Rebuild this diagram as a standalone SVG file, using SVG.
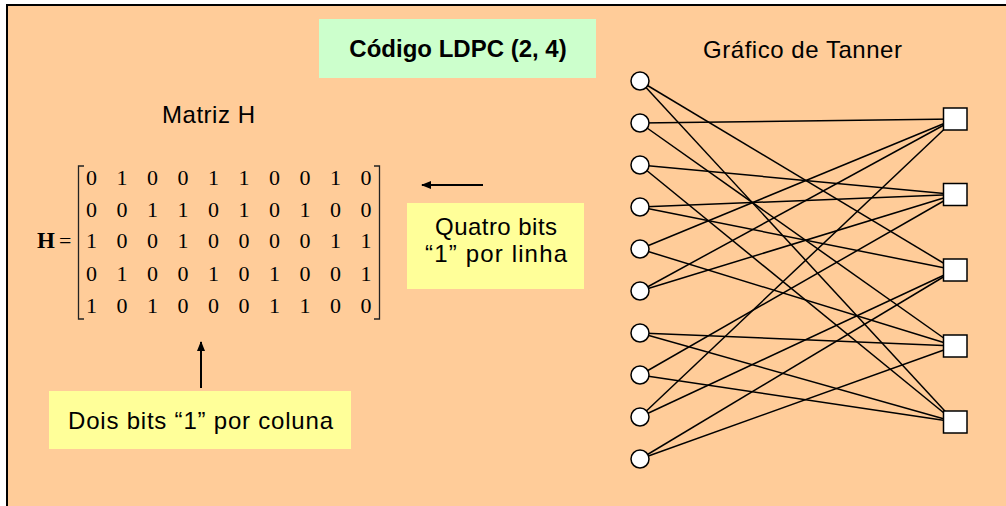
<svg xmlns="http://www.w3.org/2000/svg" width="1006" height="506" viewBox="0 0 1006 506">
<defs>
<style>
.lbl{font-family:"Liberation Sans",Arial,sans-serif;font-size:24px;fill:#000}
.mat{font-family:"Liberation Serif","Times New Roman",serif;font-size:22px;fill:#000;text-anchor:middle}
.edge{stroke:#000;stroke-width:1.5;fill:none}
.var{fill:#fff;stroke:#000;stroke-width:1.5}
.chk{fill:#fff;stroke:#000;stroke-width:1.5}
.br{stroke:#222;stroke-width:1.3;fill:none}
.arr{stroke:#000;stroke-width:2;fill:none}
</style>
<marker id="ah" viewBox="0 0 10 8" refX="9" refY="4" markerWidth="5" markerHeight="4" orient="auto" markerUnits="strokeWidth">
<path d="M0,0 L10,4 L0,8 Z" fill="#000"/>
</marker>
</defs>
<rect x="0" y="0" width="1006" height="506" fill="#fff"/>
<rect x="7" y="5" width="1010" height="520" fill="#FFCC99" stroke="#000" stroke-width="2"/>

<g id="title">
<rect x="319" y="19" width="277" height="59" fill="#CCFFCC"/>
<text class="lbl" x="458" y="57" text-anchor="middle" font-weight="bold">Código LDPC (2, 4)</text>
</g>
<g id="tanner-title">
<text class="lbl" x="703" y="58" textLength="199" lengthAdjust="spacing">Gráfico de Tanner</text>
</g>
<g id="matrix-title">
<text class="lbl" x="162" y="123" textLength="93" lengthAdjust="spacing">Matriz H</text>
</g>

<g id="matrix">
<text x="37" y="248" font-family="'Liberation Serif','Times New Roman',serif" font-size="23" font-weight="bold">H</text>
<text x="59" y="248" font-family="'Liberation Serif','Times New Roman',serif" font-size="22">=</text>
<path class="br" d="M84,166 H78.5 V319 H84"/>
<path class="br" d="M374,166 H379.5 V319 H374"/>
<g class="mat">
<text y="185"><tspan x="91.5">0</tspan><tspan x="122">1</tspan><tspan x="152.5">0</tspan><tspan x="183">0</tspan><tspan x="213.5">1</tspan><tspan x="244">1</tspan><tspan x="274.5">0</tspan><tspan x="305">0</tspan><tspan x="335.5">1</tspan><tspan x="366">0</tspan></text>
<text y="216.5"><tspan x="91.5">0</tspan><tspan x="122">0</tspan><tspan x="152.5">1</tspan><tspan x="183">1</tspan><tspan x="213.5">0</tspan><tspan x="244">1</tspan><tspan x="274.5">0</tspan><tspan x="305">1</tspan><tspan x="335.5">0</tspan><tspan x="366">0</tspan></text>
<text y="248"><tspan x="91.5">1</tspan><tspan x="122">0</tspan><tspan x="152.5">0</tspan><tspan x="183">1</tspan><tspan x="213.5">0</tspan><tspan x="244">0</tspan><tspan x="274.5">0</tspan><tspan x="305">0</tspan><tspan x="335.5">1</tspan><tspan x="366">1</tspan></text>
<text y="280.5"><tspan x="91.5">0</tspan><tspan x="122">1</tspan><tspan x="152.5">0</tspan><tspan x="183">0</tspan><tspan x="213.5">1</tspan><tspan x="244">0</tspan><tspan x="274.5">1</tspan><tspan x="305">0</tspan><tspan x="335.5">0</tspan><tspan x="366">1</tspan></text>
<text y="312.5"><tspan x="91.5">1</tspan><tspan x="122">0</tspan><tspan x="152.5">1</tspan><tspan x="183">0</tspan><tspan x="213.5">0</tspan><tspan x="244">0</tspan><tspan x="274.5">1</tspan><tspan x="305">1</tspan><tspan x="335.5">0</tspan><tspan x="366">0</tspan></text>
</g>
</g>

<g id="note-row">
<rect x="407" y="203" width="177" height="86" fill="#FFFF99"/>
<text class="lbl" x="435" y="235" textLength="122" lengthAdjust="spacing">Quatro bits</text>
<text class="lbl" x="425" y="262" textLength="142" lengthAdjust="spacing">“1” por linha</text>
</g>
<g id="note-col">
<rect x="49" y="391" width="302" height="58" fill="#FFFF99"/>
<text class="lbl" x="68" y="429" textLength="265" lengthAdjust="spacing">Dois bits “1” por coluna</text>
</g>

<g id="connectors">
<line class="arr" x1="483" y1="185" x2="422" y2="185" marker-end="url(#ah)"/>
<line class="arr" x1="201" y1="388" x2="201" y2="342" marker-end="url(#ah)"/>
<line class="edge" x1="640" y1="123" x2="955" y2="119"/>
<line class="edge" x1="640" y1="249" x2="955" y2="119"/>
<line class="edge" x1="640" y1="291" x2="955" y2="119"/>
<line class="edge" x1="640" y1="417" x2="955" y2="119"/>
<line class="edge" x1="640" y1="165" x2="955" y2="194.5"/>
<line class="edge" x1="640" y1="207" x2="955" y2="194.5"/>
<line class="edge" x1="640" y1="291" x2="955" y2="194.5"/>
<line class="edge" x1="640" y1="375" x2="955" y2="194.5"/>
<line class="edge" x1="640" y1="81" x2="955" y2="270"/>
<line class="edge" x1="640" y1="207" x2="955" y2="270"/>
<line class="edge" x1="640" y1="417" x2="955" y2="270"/>
<line class="edge" x1="640" y1="459" x2="955" y2="270"/>
<line class="edge" x1="640" y1="123" x2="955" y2="346"/>
<line class="edge" x1="640" y1="249" x2="955" y2="346"/>
<line class="edge" x1="640" y1="333" x2="955" y2="346"/>
<line class="edge" x1="640" y1="459" x2="955" y2="346"/>
<line class="edge" x1="640" y1="81" x2="955" y2="422"/>
<line class="edge" x1="640" y1="165" x2="955" y2="422"/>
<line class="edge" x1="640" y1="333" x2="955" y2="422"/>
<line class="edge" x1="640" y1="375" x2="955" y2="422"/>
</g>

<g id="v1"><circle class="var" cx="640" cy="81" r="9"/></g>
<g id="v2"><circle class="var" cx="640" cy="123" r="9"/></g>
<g id="v3"><circle class="var" cx="640" cy="165" r="9"/></g>
<g id="v4"><circle class="var" cx="640" cy="207" r="9"/></g>
<g id="v5"><circle class="var" cx="640" cy="249" r="9"/></g>
<g id="v6"><circle class="var" cx="640" cy="291" r="9"/></g>
<g id="v7"><circle class="var" cx="640" cy="333" r="9"/></g>
<g id="v8"><circle class="var" cx="640" cy="375" r="9"/></g>
<g id="v9"><circle class="var" cx="640" cy="417" r="9"/></g>
<g id="v10"><circle class="var" cx="640" cy="459" r="9"/></g>

<g id="c1"><rect class="chk" x="943.5" y="108" width="23.5" height="22"/></g>
<g id="c2"><rect class="chk" x="943.5" y="183.5" width="23.5" height="22"/></g>
<g id="c3"><rect class="chk" x="943.5" y="259" width="23.5" height="22"/></g>
<g id="c4"><rect class="chk" x="943.5" y="335" width="23.5" height="22"/></g>
<g id="c5"><rect class="chk" x="943.5" y="411" width="23.5" height="22"/></g>
</svg>
